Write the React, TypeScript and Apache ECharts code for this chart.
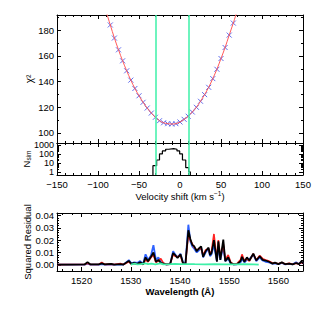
import React, { useEffect, useRef } from 'react';
import * as echarts from 'echarts';

// ---------- Top panel: chi-square vs velocity shift ----------
const velocities = [-85, -80, -75, -70, -65, -60, -55, -50, -45, -40, -35, -30, -25, -20, -15, -10, -5, 0, 5, 10, 15, 20, 25, 30, 35, 40, 45, 50, 55, 60, 65];
const chi2 = [184.2, 174.0, 164.8, 156.2, 148.4, 141.1, 134.6, 128.9, 123.8, 119.3, 115.4, 112.1, 109.4, 107.8, 107.1, 106.8, 107.1, 108.4, 110.5, 112.9, 116.2, 119.9, 124.6, 129.8, 135.5, 142.3, 149.6, 158.0, 166.6, 176.3, 185.7];
const fitStart = [-90, 194.5];
const fitEnd = [70, 196.0];
const confidenceBounds = [-29.5, 11];
const velocityTicks = [-150, -100, -50, 0, 50, 100, 150];
const chiTicks = [100, 120, 140, 160, 180];

// ---------- Middle panel: histogram of simulations ----------
const histEdges = [-33, -28.5, -25, -21.5, -17.5, -13.8, -7.7, -3.7, -0.4, 3, 7, 10.6, 12.6];
const histCounts = [5, 22, 105, 230, 355, 415, 355, 230, 105, 22, 3, 1];
const nsimTicks = [1, 10, 100, 1000];

// ---------- Bottom panel: squared residuals ----------
const wavelengths = [1515.0, 1517.5, 1520.6, 1521.2, 1521.8, 1523.5, 1524.1, 1524.7, 1526.0, 1526.6, 1527.9, 1528.5, 1529.6, 1530.1, 1530.7, 1531.3, 1531.9, 1532.5, 1533.0, 1533.5, 1534.1, 1534.6, 1535.1, 1535.6, 1536.1, 1536.6, 1537.2, 1538.0, 1538.6, 1539.0, 1539.5, 1540.1, 1540.6, 1541.1, 1541.7, 1542.1, 1542.5, 1542.9, 1543.4, 1543.9, 1544.3, 1544.7, 1545.2, 1545.8, 1546.1, 1546.4, 1546.9, 1547.5, 1547.8, 1548.2, 1548.8, 1549.2, 1549.8, 1550.3, 1550.9, 1551.6, 1552.3, 1552.6, 1553.1, 1553.6, 1554.1, 1554.9, 1555.5, 1556.2, 1556.8, 1557.4, 1558.1, 1558.8, 1559.3, 1560.0, 1560.7, 1561.4, 1562.2, 1562.9, 1563.6, 1564.2, 1564.7, 1565.0];
const residBlack = [0.0002, 0.0002, 0.0003, 0.0022, 0.0003, 0.0003, 0.0012, 0.0003, 0.0008, 0.0002, 0.0005, 0.0002, 0.0032, 0.0008, 0.0015, 0.0008, 0.0020, 0.0004, 0.0060, 0.0030, 0.0065, 0.0100, 0.0025, 0.0040, 0.0015, 0.0010, 0.0004, 0.0006, 0.0095, 0.0080, 0.0055, 0.0085, 0.0015, 0.0005, 0.0280, 0.0210, 0.0160, 0.0150, 0.0110, 0.0135, 0.0150, 0.0065, 0.0110, 0.0140, 0.0080, 0.0095, 0.0200, 0.0025, 0.0190, 0.0040, 0.0205, 0.0030, 0.0060, 0.0015, 0.0004, 0.0006, 0.0030, 0.0065, 0.0025, 0.0060, 0.0035, 0.0090, 0.0035, 0.0070, 0.0040, 0.0035, 0.0025, 0.0010, 0.0018, 0.0006, 0.0020, 0.0005, 0.0010, 0.0004, 0.0015, 0.0006, 0.0030, 0.0010];
const residBlue = [0.0001, 0.0001, 0.0002, 0.0010, 0.0002, 0.0002, 0.0006, 0.0002, 0.0004, 0.0002, 0.0003, 0.0002, 0.0038, 0.0012, 0.0020, 0.0015, 0.0030, 0.0006, 0.0085, 0.0040, 0.0075, 0.0160, 0.0040, 0.0060, 0.0025, 0.0012, 0.0004, 0.0006, 0.0110, 0.0085, 0.0060, 0.0090, 0.0020, 0.0008, 0.0325, 0.0190, 0.0150, 0.0130, 0.0100, 0.0120, 0.0140, 0.0060, 0.0100, 0.0130, 0.0070, 0.0085, 0.0160, 0.0030, 0.0150, 0.0040, 0.0150, 0.0030, 0.0050, 0.0010, 0.0004, 0.0004, 0.0020, 0.0050, 0.0020, 0.0040, 0.0045, 0.0085, 0.0030, 0.0060, 0.0035, 0.0025, 0.0020, 0.0010, 0.0012, 0.0005, 0.0015, 0.0004, 0.0008, 0.0004, 0.0020, 0.0005, 0.0025, 0.0008];
const residRed = [0.0002, 0.0003, 0.0003, 0.0012, 0.0003, 0.0004, 0.0020, 0.0004, 0.0006, 0.0003, 0.0010, 0.0003, 0.0025, 0.0006, 0.0010, 0.0005, 0.0015, 0.0003, 0.0040, 0.0025, 0.0060, 0.0080, 0.0020, 0.0030, 0.0050, 0.0015, 0.0004, 0.0006, 0.0085, 0.0070, 0.0065, 0.0075, 0.0010, 0.0004, 0.0250, 0.0200, 0.0170, 0.0140, 0.0120, 0.0130, 0.0130, 0.0080, 0.0120, 0.0130, 0.0090, 0.0110, 0.0250, 0.0040, 0.0200, 0.0060, 0.0170, 0.0040, 0.0080, 0.0020, 0.0005, 0.0010, 0.0040, 0.0085, 0.0030, 0.0050, 0.0030, 0.0090, 0.0040, 0.0075, 0.0050, 0.0040, 0.0030, 0.0015, 0.0015, 0.0008, 0.0018, 0.0006, 0.0012, 0.0005, 0.0012, 0.0008, 0.0020, 0.0010];
const greenWavelengths = [1530.0, 1530.8, 1531.3, 1532.0, 1533.0, 1533.5, 1534.2, 1535.0, 1536.0, 1536.6, 1538.0, 1539.0, 1540.0, 1541.5, 1543.0, 1545.0, 1547.0, 1549.0, 1551.0, 1553.0, 1555.0, 1556.0];
const residGreen = [0.0002, 0.0010, 0.0004, 0.0006, 0.0012, 0.0005, 0.0010, 0.0004, 0.0012, 0.0004, 0.0005, 0.0008, 0.0005, 0.0006, 0.0005, 0.0004, 0.0005, 0.0004, 0.0004, 0.0005, 0.0004, 0.0002];
const residTicks = [0, 0.01, 0.02, 0.03, 0.04];
const wavelengthTicks = [1520, 1530, 1540, 1550, 1560];

const FONT = '"Liberation Sans", Arial, Helvetica, sans-serif';
const GREEN = '#3ef0a8';

function steps(a: number, b: number, s: number): number[] {
  const out: number[] = [];
  for (let i = 0; a + i * s <= b + 1e-9; i++) out.push(+(a + i * s).toFixed(6));
  return out;
}

const fmtVel = (v: number) => (v < 0 ? '\u2212' + Math.abs(v) : String(v));

function axesFor(dim: 'x' | 'y', grid: number, base: any, majors: number[], minors: number[], label: any, nameOpts: any) {
  const pos = dim === 'x' ? ['bottom', 'top'] : ['left', 'right'];
  const mk = (position: string, ticks: number[], len: number, line: boolean, lab: any, extra: any) => ({
    ...base,
    gridIndex: grid,
    position,
    axisLine: { show: line, onZero: false, lineStyle: { color: '#000', width: 1 } },
    axisTick: { show: true, inside: true, length: len, customValues: ticks, lineStyle: { color: '#000', width: 1 } },
    axisLabel: lab ? { hideOverlap: false, ...lab } : { show: false },
    splitLine: { show: false },
    nameMoveOverlap: false,
    ...extra,
  });
  return [
    mk(pos[0], majors, 4, true, label, nameOpts || {}),
    mk(pos[0], minors, 2, false, null, {}),
    mk(pos[1], majors, 4, true, null, {}),
    mk(pos[1], minors, 2, false, null, {}),
  ];
}

const labelStyle = { fontSize: 9.5, color: '#000', fontFamily: FONT };

export default function App() {
  const ref = useRef<HTMLDivElement>(null);
  useEffect(() => {
    document.body.style.margin = '0';
    const chart = echarts.init(ref.current!, null, { renderer: 'svg' });

    const velBase = { type: 'value', min: -150, max: 150 };
    const velMinor = steps(-150, 150, 10);
    const xAxes = [
      ...axesFor('x', 0, velBase, velocityTicks, velMinor, null, null),
      ...axesFor('x', 1, velBase, velocityTicks, velMinor,
        { show: true, customValues: velocityTicks, formatter: fmtVel, margin: 4, ...labelStyle }, {
          name: 'Velocity shift (km s{sup|\u22121})',
          nameLocation: 'middle',
          nameGap: 15,
          nameTextStyle: { ...labelStyle, rich: { sup: { fontSize: 6.5, fontFamily: FONT, color: '#000', padding: [0, 0, 6, 0] } } },
        }),
      ...axesFor('x', 2, { type: 'value', min: 1515, max: 1565 }, wavelengthTicks, steps(1516, 1564, 2),
        { show: true, customValues: wavelengthTicks, margin: 4, formatter: (v: number) => String(v), ...labelStyle }, {
          name: 'Wavelength (\u00c5)',
          nameLocation: 'middle',
          nameGap: 15,
          nameTextStyle: { ...labelStyle, fontWeight: 'bold' },
        }),
    ];

    const nsimMinor: number[] = [];
    [1, 10, 100].forEach((d) => { for (let k = 2; k <= 9; k++) nsimMinor.push(k * d); });
    const yAxes = [
      ...axesFor('y', 0, { type: 'value', min: 92, max: 192 }, chiTicks, steps(100, 190, 10),
        { show: true, customValues: chiTicks, margin: 3, ...labelStyle }, {
          name: '\u03c7\u00b2', nameLocation: 'middle', nameRotate: 90, nameGap: 23,
          nameTextStyle: { ...labelStyle, fontSize: 10 },
        }),
      ...axesFor('y', 1, { type: 'log', logBase: 10, min: 0.45, max: 1800 }, nsimTicks, nsimMinor,
        { show: true, customValues: nsimTicks, margin: 3, formatter: (v: number) => String(Math.round(v)), ...labelStyle, fontSize: 9 }, {
          name: '{n|N}{s|sim}', nameLocation: 'middle', nameRotate: 90, nameGap: 25,
          nameTextStyle: { ...labelStyle, rich: { n: { fontSize: 9.5, fontFamily: FONT, color: '#000' }, s: { fontSize: 6.5, fontFamily: FONT, color: '#000', padding: [5, 0, 0, 0] } } },
        }),
      ...axesFor('y', 2, { type: 'value', min: -0.005, max: 0.042 }, residTicks, steps(0, 0.04, 0.002),
        { show: true, customValues: residTicks, margin: 3, formatter: (v: number) => v.toFixed(2), ...labelStyle }, {
          name: 'Squared Residual', nameLocation: 'middle', nameRotate: 90, nameGap: 25,
          nameTextStyle: { ...labelStyle },
        }),
    ];

    const greenMark = {
      silent: true,
      symbol: ['none', 'none'],
      label: { show: false },
      lineStyle: { color: GREEN, width: 1.5, type: 'solid' },
      data: confidenceBounds.map((v) => ({ xAxis: v })),
    };

    const fitData = [fitStart, ...velocities.map((v, i) => [v, chi2[i]]), fitEnd];

    const histData: number[][] = [[histEdges[0], 0.45]];
    histCounts.forEach((c, i) => histData.push([histEdges[i], c]));
    histData.push([histEdges[histEdges.length - 1], histCounts[histCounts.length - 1]]);
    histData.push([histEdges[histEdges.length - 1], 0.45]);

    const resid = (vals: number[], color: string, width: number) => ({
      type: 'line', xAxisIndex: 8, yAxisIndex: 8, showSymbol: false, silent: true,
      data: wavelengths.map((w, i) => [w, vals[i]]),
      lineStyle: { color, width }, clip: true,
    });

    chart.setOption({
      animation: false,
      backgroundColor: '#fff',
      grid: [
        { left: 57, top: 15, width: 246, height: 128 },
        { left: 57, top: 143, width: 246, height: 32 },
        { left: 57, top: 213, width: 246, height: 58 },
      ],
      xAxis: xAxes,
      yAxis: yAxes,
      series: [
        {
          type: 'line', xAxisIndex: 0, yAxisIndex: 0, data: fitData, smooth: 0.3, showSymbol: false,
          lineStyle: { color: '#ff5a5a', width: 1 }, clip: true, silent: true,
          markLine: greenMark,
        },
        {
          type: 'scatter', xAxisIndex: 0, yAxisIndex: 0, data: velocities.map((v, i) => [v, chi2[i]]),
          symbol: 'path://M0,0L10,10M10,0L0,10', symbolSize: 5, silent: true,
          itemStyle: { color: 'rgba(0,0,0,0)', borderColor: '#3848e8', borderWidth: 1 },
        },
        {
          type: 'line', xAxisIndex: 4, yAxisIndex: 4, data: histData, step: 'end', showSymbol: false,
          lineStyle: { color: '#000', width: 1.2 }, clip: true, silent: true,
          markLine: greenMark,
        },
        resid(residBlue, '#2f62ff', 1.8),
        resid(residRed, '#ff2222', 1.6),
        resid(residBlack, '#000000', 1.8),
        {
          type: 'line', xAxisIndex: 8, yAxisIndex: 8, showSymbol: false, silent: true,
          data: greenWavelengths.map((w, i) => [w, residGreen[i]]),
          lineStyle: { color: GREEN, width: 1.8 },
        },
      ],
    });
    return () => chart.dispose();
  }, []);
  return <div ref={ref} style={{ width: 319, height: 319 }} />;
}
